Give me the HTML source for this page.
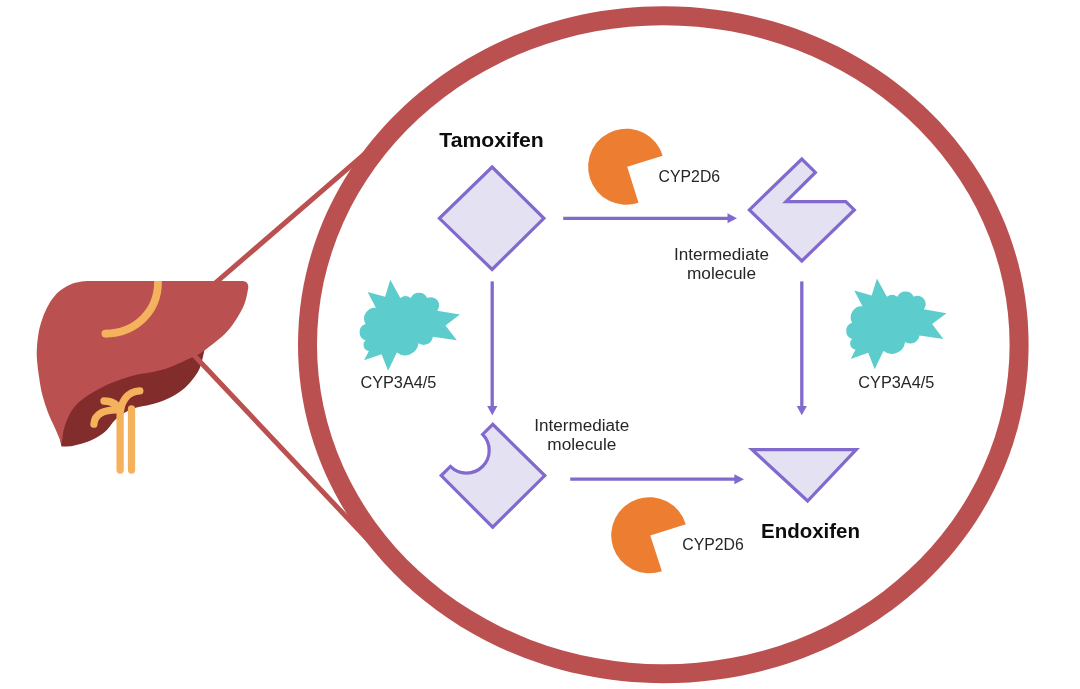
<!DOCTYPE html>
<html lang="en">
<head>
<meta charset="utf-8">
<title>Tamoxifen metabolism</title>
<style>
  html, body { margin: 0; padding: 0; background: #ffffff; }
  body { width: 1080px; height: 689px; overflow: hidden; }
  svg { display: block; filter: blur(0.45px); }
  text { font-family: "Liberation Sans", sans-serif; fill: #262626; font-size: 16px; }
  .b { font-weight: bold; fill: #0d0d0d; font-size: 20.5px; }
  .mol { fill: #E4E1F3; stroke: #8269CD; stroke-width: 3.2; stroke-linejoin: miter; stroke-miterlimit: 10; }
  .arr { stroke: #8269CD; stroke-width: 3.3; fill: none; }
  .ah { fill: #8269CD; }
  .teal { fill: #5DCCCD; }
  .or { fill: #ED7D31; }
  .y { fill: none; stroke: #F5B25C; stroke-width: 7.3; stroke-linecap: round; stroke-linejoin: round; }
</style>
</head>
<body>
<svg width="1080" height="689" viewBox="0 0 1080 689">
  <rect width="1080" height="689" fill="#ffffff"/>

  <!-- liver back lobe -->
  <path d="M204.5,350.0 C203.7,353.1 201.8,363.4 199.6,368.5 C197.4,373.6 194.6,377.0 191.5,380.7 C188.4,384.4 185.4,387.8 181.3,390.8 C177.2,393.9 172.1,396.7 167.0,399.0 C161.9,401.3 155.9,403.2 150.8,404.6 C145.7,406.0 140.9,406.3 136.6,407.6 C132.3,408.9 128.6,410.4 125.0,412.5 C121.4,414.6 118.0,417.2 115.0,420.1 C112.0,423.0 110.1,426.8 107.1,429.7 C104.0,432.6 100.5,435.3 96.7,437.5 C92.9,439.7 88.6,441.4 84.5,442.8 C80.4,444.2 76.1,445.3 72.3,445.9 C68.5,446.5 63.3,446.5 61.5,446.6 L60,440 L58,420 L72,392 L100,374 L200,338 Z" fill="#822C2C"/>

  <!-- zoom lines from liver to ring -->
  <g stroke="#BA5150" stroke-width="5">
    <line x1="212" y1="285.9" x2="400" y2="123.4"/>
    <line x1="186" y1="346.8" x2="400" y2="573.8"/>
  </g>

  <!-- big ring -->
  <path d="M1028.6,344.7 C1028.6,533.5 867.0,683.2 663.3,683.2 C461.5,683.2 298.0,531.7 298.0,344.7 C298.0,157.7 461.5,6.2 663.3,6.2 C867.0,6.2 1028.6,155.9 1028.6,344.7 Z" fill="#BA5150"/>
  <ellipse cx="663.3" cy="344.7" rx="346.3" ry="319.5" fill="#ffffff"/>

  <!-- liver -->
  <path d="M86,281 L242.5,281 Q248.6,281 248.3,288 C247.5,291.1 246.7,299.6 243.3,306.7 C239.9,313.8 234.2,323.5 227.8,330.7 C221.4,337.9 211.2,345.4 205.0,349.9 C198.8,354.4 197.9,354.6 190.7,357.9 C183.5,361.2 172.1,366.7 162.0,369.8 C151.9,372.9 139.7,373.6 130.0,376.4 C120.3,379.2 112.3,382.0 103.6,386.5 C94.8,391.0 83.9,397.3 77.5,403.6 C71.1,409.9 67.9,417.8 65.3,424.5 C62.7,431.2 62.4,440.8 61.8,444.0 C60.8,441.6 58.0,435.0 55.7,429.7 C53.4,424.4 50.1,418.1 47.9,412.3 C45.7,406.5 43.8,400.5 42.3,394.8 C40.8,389.1 40.1,383.5 39.2,378.0 C38.4,372.5 37.6,366.7 37.2,362.0 C36.8,357.3 36.6,354.6 36.8,349.9 C37.0,345.2 37.6,338.7 38.4,333.9 C39.2,329.1 40.4,325.0 41.6,321.1 C42.8,317.2 43.9,314.3 45.6,310.7 C47.3,307.1 49.5,302.9 51.9,299.6 C54.3,296.3 56.4,293.5 59.9,290.8 C63.4,288.1 68.4,285.2 72.7,283.6 C77.0,282.0 83.8,281.4 86.0,281.0 Z" fill="#BA5150"/>
  <path class="y" style="stroke-linecap:butt;stroke-width:7.8" d="M158,281 L158,282 C158,311.2 135.6,333.6 105.4,333.6"/><circle cx="105.4" cy="333.6" r="3.9" fill="#F5B25C"/>
  <path class="y" d="M120.1,470 L120.1,416 C120.1,402 127,391.6 139.8,390.9"/>
  <path class="y" d="M131.5,470 L131.5,409"/>
  <path class="y" d="M93.9,424.2 C94.6,414 104,409.4 118.5,409.8"/>
  <path class="y" d="M104,401 C112,401 117.2,404 119.6,411"/>

  <!-- molecules -->
  <polygon class="mol" points="492.1,167 543.9,218.3 492.1,269.5 439.4,218.3"/>
  <polygon class="mol" points="749.4,209.9 801.8,159 815.4,172.4 786,201.7 845.8,201.7 854.3,209.9 801.8,261"/>
  <path class="mol" d="M492.7,424.3 L482.6,434.4 A22.4,22.4 0 0 1 450.4,466.4 L441.2,475.6 L492.7,527.2 L544.8,475.6 Z"/>
  <polygon class="mol" points="752,449.6 856.2,449.6 807.6,501"/>

  <!-- arrows -->
  <line class="arr" x1="563.2" y1="218.3" x2="729" y2="218.3"/>
  <polygon class="ah" points="727.5,213.3 737,218.3 727.5,223.3"/>
  <line class="arr" x1="570.2" y1="479.2" x2="736" y2="479.2"/>
  <polygon class="ah" points="734.4,474.2 744,479.2 734.4,484.2"/>
  <line class="arr" x1="492.2" y1="281.4" x2="492.2" y2="407"/>
  <polygon class="ah" points="487.2,406 497.4,406 492.3,415.3"/>
  <line class="arr" x1="801.8" y1="281.4" x2="801.8" y2="407"/>
  <polygon class="ah" points="796.7,406 806.9,406 801.8,415.3"/>

  <!-- enzymes -->
  <path class="or" d="M627.2,166.8 L638.5,202.8 A38.1,38.1 0 1 1 662.7,155.8 Z"/>
  <path class="or" d="M650.3,535.5 L661.9,571.2 A38.1,38.1 0 1 1 685.8,524.3 Z"/>
  <path class="teal" transform="translate(0,0)" d="M390.3,279.8 L400.3,298.1 A8.4,8.4 0 0 1 410.7,298.1 A9.1,9.1 0 0 1 427.2,298.1 A8.2,8.2 0 0 1 437.2,310.7 L459.9,314.6 L445.5,325.5 L456.8,340.3 L432.9,336.8 A9.3,9.3 0 0 1 418.5,343.3 A13.6,13.6 0 0 1 396.8,352.5 L388.1,370.7 L381.6,354.2 L364.1,360.3 L368.9,351.1 A6.3,6.3 0 0 1 365.5,340.3 A8.5,8.5 0 0 1 365.5,324.1 A11,11 0 0 1 375.9,307.7 L367.6,292 L385.1,296.8 Z"/>
  <path class="teal" transform="translate(486.6,-1.4)" d="M390.3,279.8 L400.3,298.1 A8.4,8.4 0 0 1 410.7,298.1 A9.1,9.1 0 0 1 427.2,298.1 A8.2,8.2 0 0 1 437.2,310.7 L459.9,314.6 L445.5,325.5 L456.8,340.3 L432.9,336.8 A9.3,9.3 0 0 1 418.5,343.3 A13.6,13.6 0 0 1 396.8,352.5 L388.1,370.7 L381.6,354.2 L364.1,360.3 L368.9,351.1 A6.3,6.3 0 0 1 365.5,340.3 A8.5,8.5 0 0 1 365.5,324.1 A11,11 0 0 1 375.9,307.7 L367.6,292 L385.1,296.8 Z"/>

  <!-- labels -->
  <text class="b" x="439.3" y="146.7" textLength="104.5" lengthAdjust="spacingAndGlyphs">Tamoxifen</text>
  <text class="b" x="761" y="538.3" textLength="99" lengthAdjust="spacingAndGlyphs">Endoxifen</text>
  <text x="658.6" y="181.5" textLength="61.5" lengthAdjust="spacingAndGlyphs">CYP2D6</text>
  <text x="682.3" y="550.2" textLength="61.5" lengthAdjust="spacingAndGlyphs">CYP2D6</text>
  <text x="360.4" y="387.9" textLength="76" lengthAdjust="spacingAndGlyphs">CYP3A4/5</text>
  <text x="858.3" y="387.8" textLength="76" lengthAdjust="spacingAndGlyphs">CYP3A4/5</text>
  <text x="673.9" y="259.7" textLength="95" lengthAdjust="spacingAndGlyphs">Intermediate</text>
  <text x="687" y="279.4" textLength="69" lengthAdjust="spacingAndGlyphs">molecule</text>
  <text x="534.3" y="430.7" textLength="95" lengthAdjust="spacingAndGlyphs">Intermediate</text>
  <text x="547.3" y="449.8" textLength="69" lengthAdjust="spacingAndGlyphs">molecule</text>
</svg>
</body>
</html>
